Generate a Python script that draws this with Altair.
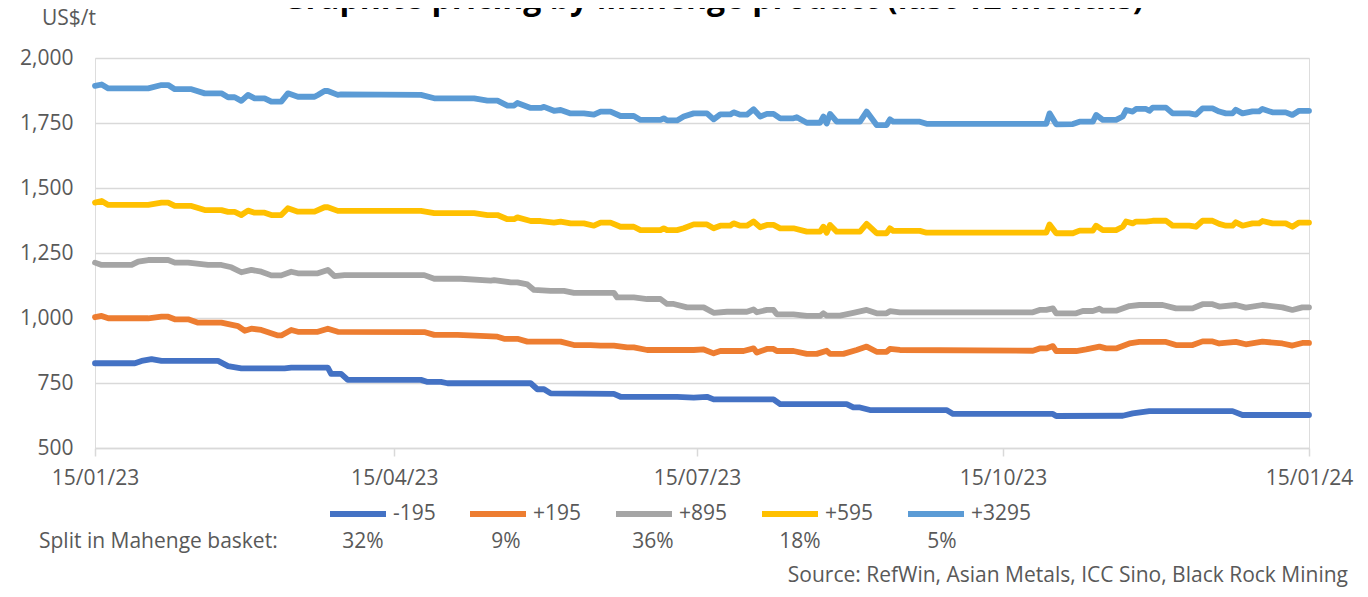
import altair as alt
import pandas as pd

START = "2023-01-15"
SERIES = ["-195", "+195", "+895", "+595", "+3295"]
COLORS = ["#4472C4", "#ED7D31", "#A5A5A5", "#FFC000", "#5B9BD5"]
SPLITS = ["32%", "9%", "36%", "18%", "5%"]
Y_TICKS = [500, 750, 1000, 1250, 1500, 1750, 2000]

# days since 15/01/23 and price (US$/t) for each product
DAYS_M195 = [0, 12, 14, 17, 20, 37, 40, 44, 57, 59, 70, 71, 74, 76, 98, 100, 104, 106, 131, 133,
             135, 137, 156, 158, 175, 180, 184, 186, 204, 206, 226, 228, 230, 233, 256, 258, 288,
             289, 309, 312, 317, 342, 345, 365]
VALS_M195 = [826, 826, 835, 842, 835, 835, 815, 806, 806, 809, 809, 785, 785, 762, 762, 754, 754,
             749, 749, 726, 726, 710, 708, 697, 697, 694, 697, 687, 687, 669, 669, 656, 656, 646,
             646, 631, 631, 623, 624, 633, 642, 642, 627, 627]

DAYS_P195 = [0, 2, 4, 16, 20, 22, 24, 28, 31, 38, 43, 45, 47, 50, 55, 56, 59, 61, 67, 70, 73, 99,
             102, 109, 121, 123, 127, 130, 140, 144, 149, 152, 156, 160, 162, 166, 180, 183, 186,
             188, 195, 198, 199, 202, 204, 205, 210, 214, 217, 220, 221, 225, 229, 232, 235, 238,
             239, 242, 282, 284, 286, 288, 289, 295, 298, 302, 304, 307, 311, 314, 322, 325, 330,
             333, 336, 338, 343, 346, 351, 357, 360, 363, 365]
VALS_P195 = [1003, 1008, 999, 999, 1005, 1005, 995, 995, 982, 982, 969, 951, 959, 954, 933, 933,
             954, 947, 947, 959, 947, 946, 935, 935, 928, 920, 920, 909, 909, 896, 896, 894, 894,
             887, 887, 877, 877, 879, 864, 873, 873, 883, 867, 881, 881, 873, 873, 862, 862, 874,
             862, 862, 877, 890, 870, 870, 881, 877, 874, 883, 883, 892, 873, 873, 879, 890, 883,
             883, 902, 908, 908, 896, 896, 910, 910, 902, 908, 899, 909, 902, 894, 904, 904]

DAYS_P895 = [0, 2, 11, 13, 16, 22, 24, 28, 34, 38, 41, 44, 47, 50, 53, 56, 59, 61, 67, 70, 72, 75,
             99, 102, 110, 119, 120, 125, 127, 130, 132, 137, 141, 144, 156, 157, 162, 166, 170,
             172, 174, 178, 183, 186, 190, 196, 198, 199, 202, 204, 205, 210, 214, 218, 219, 220,
             224, 228, 232, 235, 238, 239, 242, 282, 284, 286, 288, 289, 295, 297, 300, 302, 303,
             307, 311, 314, 321, 325, 330, 333, 336, 338, 343, 346, 351, 357, 360, 363, 365]
VALS_P895 = [1213, 1204, 1204, 1217, 1223, 1223, 1213, 1213, 1204, 1204, 1195, 1176, 1185, 1178,
             1164, 1164, 1178, 1172, 1172, 1185, 1161, 1165, 1165, 1151, 1151, 1144, 1146, 1137,
             1137, 1129, 1108, 1104, 1104, 1097, 1097, 1079, 1079, 1073, 1073, 1054, 1054, 1041,
             1041, 1020, 1024, 1024, 1033, 1022, 1031, 1031, 1014, 1014, 1008, 1008, 1018, 1009,
             1009, 1020, 1031, 1018, 1018, 1026, 1022, 1022, 1031, 1031, 1037, 1018, 1018, 1027,
             1027, 1036, 1028, 1028, 1046, 1050, 1050, 1037, 1037, 1053, 1053, 1044, 1050, 1040,
             1050, 1041, 1031, 1041, 1041]

DAYS_P595 = [0, 2, 4, 16, 20, 22, 24, 29, 33, 38, 40, 42, 44, 46, 48, 51, 53, 56, 58, 61, 66, 69,
             70, 73, 98, 102, 114, 118, 121, 124, 126, 127, 131, 134, 138, 140, 143, 147, 150, 152,
             155, 158, 162, 164, 170, 171, 172, 175, 177, 180, 184, 186, 188, 191, 192, 194, 196,
             198, 200, 202, 204, 206, 210, 214, 218, 219, 220, 221, 223, 230, 232, 235, 238, 239,
             240, 248, 250, 286, 287, 289, 294, 296, 300, 301, 303, 307, 309, 310, 312, 313, 316,
             318, 322, 324, 329, 331, 333, 336, 338, 340, 342, 343, 345, 348, 350, 351, 354, 358,
             360, 362, 365]
VALS_P595 = [1444, 1450, 1435, 1435, 1444, 1444, 1431, 1431, 1415, 1415, 1408, 1408, 1396, 1413,
             1405, 1405, 1396, 1396, 1422, 1409, 1409, 1426, 1426, 1412, 1412, 1403, 1403, 1396,
             1396, 1380, 1380, 1387, 1373, 1373, 1367, 1371, 1364, 1364, 1355, 1367, 1367, 1351,
             1351, 1338, 1338, 1345, 1338, 1338, 1345, 1360, 1360, 1345, 1355, 1355, 1364, 1355,
             1355, 1371, 1349, 1358, 1358, 1345, 1345, 1332, 1332, 1351, 1328, 1358, 1332, 1332,
             1362, 1326, 1326, 1345, 1335, 1335, 1328, 1328, 1360, 1326, 1326, 1336, 1336, 1355,
             1338, 1338, 1351, 1371, 1364, 1371, 1371, 1374, 1374, 1355, 1355, 1351, 1374, 1374,
             1362, 1355, 1355, 1368, 1355, 1364, 1364, 1373, 1364, 1364, 1351, 1367, 1367]

DAYS_P3295 = [0, 2, 4, 16, 20, 22, 24, 29, 33, 38, 40, 42, 44, 46, 48, 51, 53, 56, 58, 61, 66, 67,
              69, 70, 73, 74, 98, 102, 114, 118, 121, 124, 126, 127, 131, 134, 135, 138, 140, 143,
              147, 150, 152, 155, 158, 162, 164, 170, 171, 172, 175, 177, 180, 184, 186, 188, 191,
              192, 194, 196, 198, 200, 202, 204, 206, 210, 211, 214, 218, 219, 220, 221, 223, 230,
              232, 235, 238, 239, 240, 248, 250, 286, 287, 289, 294, 296, 300, 301, 303, 307, 309,
              310, 312, 313, 316, 317, 318, 322, 324, 329, 331, 333, 336, 338, 340, 342, 343, 345,
              348, 350, 351, 354, 358, 360, 362, 365]
VALS_P3295 = [1893, 1898, 1883, 1883, 1896, 1896, 1880, 1880, 1864, 1864, 1849, 1849, 1835, 1858,
              1845, 1845, 1832, 1832, 1864, 1851, 1851, 1858, 1873, 1873, 1858, 1860, 1858, 1845,
              1845, 1836, 1836, 1817, 1817, 1827, 1808, 1808, 1812, 1797, 1800, 1787, 1787, 1782,
              1794, 1794, 1777, 1777, 1762, 1762, 1768, 1760, 1760, 1775, 1787, 1787, 1764, 1783,
              1783, 1791, 1782, 1782, 1803, 1775, 1785, 1785, 1768, 1768, 1772, 1751, 1751, 1775,
              1748, 1785, 1755, 1755, 1794, 1742, 1742, 1764, 1755, 1755, 1747, 1747, 1787, 1745,
              1746, 1755, 1755, 1781, 1762, 1762, 1775, 1800, 1794, 1804, 1804, 1797, 1809, 1809,
              1787, 1787, 1782, 1806, 1806, 1794, 1787, 1787, 1801, 1787, 1795, 1795, 1804, 1791,
              1791, 1781, 1797, 1797]

DAYS = [DAYS_M195, DAYS_P195, DAYS_P895, DAYS_P595, DAYS_P3295]
VALS = [VALS_M195, VALS_P195, VALS_P895, VALS_P595, VALS_P3295]

rows = []
start = pd.Timestamp(START)
for name, days, vals in zip(SERIES, DAYS, VALS):
    for d, v in zip(days, vals):
        rows.append({"series": name,
                     "date": (start + pd.Timedelta(days=d)).strftime("%Y-%m-%dT%H:%M:%S"),
                     "value": v})
df = pd.DataFrame(rows)

FONT = "Open Sans"
GREY = "#595959"
FS = 21

x_ticks = [alt.DateTime(year=2023, month=1, date=15), alt.DateTime(year=2023, month=4, date=15),
           alt.DateTime(year=2023, month=7, date=15), alt.DateTime(year=2023, month=10, date=15),
           alt.DateTime(year=2024, month=1, date=15)]

lines = alt.Chart(df).mark_line(strokeWidth=5.8, strokeJoin="round", strokeCap="round").encode(
    x=alt.X("date:T",
            scale=alt.Scale(domain=[x_ticks[0], x_ticks[-1]], nice=False),
            axis=alt.Axis(title=None, values=x_ticks, format="%d/%m/%y", labelFont=FONT,
                          labelFontSize=FS, labelColor=GREY, labelPadding=11, tickSize=8,
                          tickColor="#D9D9D9", tickWidth=1.5, domainColor="#D9D9D9",
                          domainWidth=1.5, grid=False, labelOverlap=False, labelFlush=False)),
    y=alt.Y("value:Q",
            scale=alt.Scale(domain=[500, 2000], nice=False, zero=False),
            axis=alt.Axis(title=None, values=Y_TICKS, format=",.0f", labelFont=FONT,
                          labelFontSize=FS, labelColor=GREY, labelPadding=22, ticks=False,
                          domain=False, grid=True, gridColor="#D9D9D9", gridWidth=1.5)),
    color=alt.Color("series:N",
                    scale=alt.Scale(domain=SERIES, range=COLORS),
                    sort=SERIES,
                    legend=alt.Legend(title=None, orient="none", legendX=232, legendY=425,
                                      direction="horizontal", columns=5, symbolType="stroke",
                                      symbolStrokeWidth=6, symbolSize=3136, labelFont=FONT,
                                      labelFontSize=FS, labelColor=GREY, columnPadding=22,
                                      labelOffset=4, padding=0)),
    detail="series:N",
)


def label(text, x, y, size=FS, align="left", baseline="middle", weight="normal", color=GREY):
    return alt.Chart(pd.DataFrame({"t": [text]})).mark_text(
        align=align, baseline=baseline, fontSize=size, fontWeight=weight, color=color, font=FONT
    ).encode(text="t:N", x=alt.value(x), y=alt.value(y))


texts = [
    label("Graphite pricing by Mahenge product (last 12 months)", 618, -49, size=32,
          align="center", baseline="alphabetic", weight="bold", color="#000000"),
    label("US$/t", -53, -39),
    label("Split in Mahenge basket:", -56, 484),
    label("Source: RefWin, Asian Metals, ICC Sino, Black Rock Mining", 1253, 518, align="right"),
]
for s, px in zip(SPLITS, [268, 411, 558, 705, 847]):
    texts.append(label(s, px, 484, align="center"))

chart = alt.layer(lines, *texts).properties(
    width=1214, height=390,
    autosize=alt.AutoSizeParams(type="none"),
    padding={"left": 87, "top": 50, "right": 51, "bottom": 139},
).configure_view(stroke=None).configure(font=FONT)

chart.save("out.html", embed_options={"renderer": "svg", "actions": False})
